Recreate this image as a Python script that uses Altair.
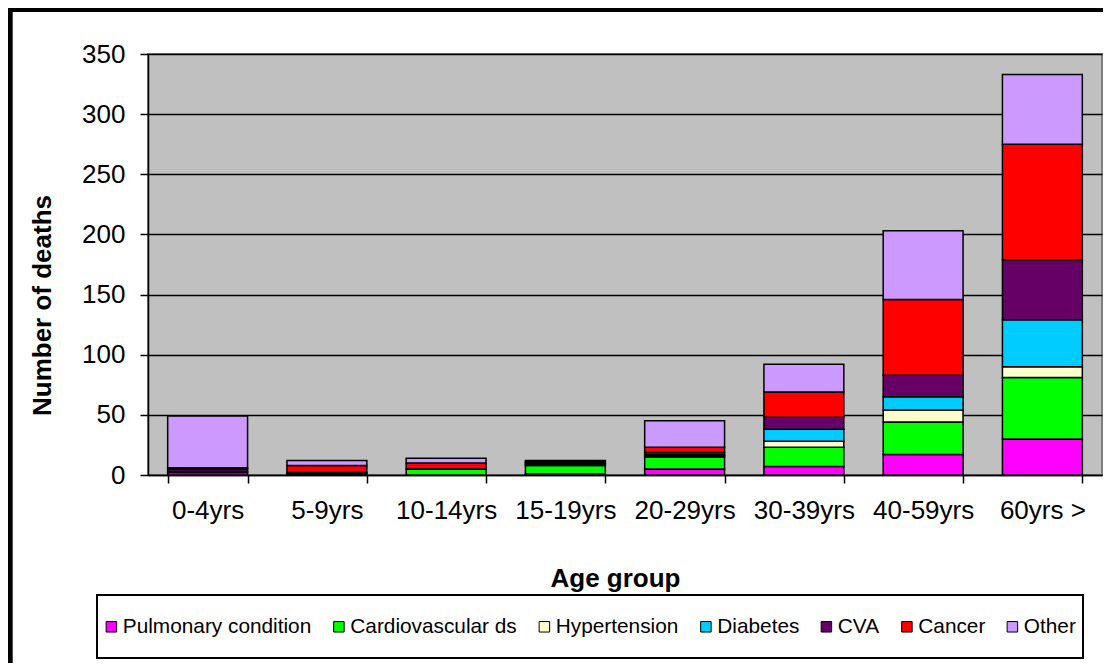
import altair as alt
import pandas as pd

categories = ["0-4yrs", "5-9yrs", "10-14yrs", "15-19yrs", "20-29yrs", "30-39yrs", "40-59yrs", "60yrs >"]
causes = ["Pulmonary condition", "Cardiovascular ds", "Hypertension", "Diabetes", "CVA", "Cancer", "Other"]
colors = ["#FF00FF", "#00FF00", "#FFFFCC", "#00CCFF", "#660066", "#FF0000", "#CC99FF"]

pulmonary = [2, 1, 0, 1, 5, 7, 17, 30]
cardiovascular = [1, 1, 5, 7, 10, 16, 27, 51]
hypertension = [0, 0, 0, 1, 1, 5, 10, 9]
diabetes = [0, 0, 0, 0, 1, 10, 11, 39]
cva = [2, 0, 0, 1, 2, 10, 18, 50]
cancer = [1, 6, 5, 1, 4, 21, 63, 96]
other = [43, 4, 4, 1, 22, 23, 57, 58]

series = [pulmonary, cardiovascular, hypertension, diabetes, cva, cancer, other]
y_ticks = [0, 50, 100, 150, 200, 250, 300, 350]

rows = []
for ci, (cause, vals) in enumerate(zip(causes, series)):
    for cat, v in zip(categories, vals):
        if v > 0:
            rows.append({"age": cat, "cause": cause, "deaths": v, "idx": ci})
df = pd.DataFrame(rows)

FONT = "Liberation Sans"

bars = alt.Chart(df).mark_bar(stroke="black", strokeWidth=1.5).encode(
    x=alt.X("age:N", sort=categories,
            scale=alt.Scale(paddingInner=0.33, paddingOuter=0.165),
            axis=alt.Axis(title="Age group", labelAngle=0, tickBand="extent",
                          tickSize=8, tickColor="black", tickWidth=1.5,
                          domainColor="black", domainWidth=1.5,
                          labelFontSize=26, labelFont=FONT, labelColor="black",
                          labelBaseline="alphabetic", labelPadding=35,
                          titleFontSize=26, titleFont=FONT, titleFontWeight="bold",
                          titleColor="black", titleBaseline="alphabetic",
                          titleX=467, titleY=111, grid=False)),
    y=alt.Y("deaths:Q", stack="zero",
            scale=alt.Scale(domain=[0, 350], nice=False),
            axis=alt.Axis(title="Number of deaths", values=y_ticks,
                          tickSize=8, tickColor="black", tickWidth=1.5,
                          domainColor="black", domainWidth=1.5,
                          labelFontSize=26, labelFont=FONT, labelColor="black",
                          labelPadding=15,
                          grid=True, gridColor="black", gridWidth=1.5,
                          titleFontSize=26, titleFont=FONT, titleFontWeight="bold",
                          titleColor="black", titleAngle=270,
                          titleBaseline="alphabetic", titleX=-98, titleY=251)),
    color=alt.Color("cause:N", sort=causes,
                    scale=alt.Scale(domain=causes, range=colors),
                    legend=alt.Legend(title=None, orient="none", direction="horizontal",
                                      columns=7, legendX=-47, legendY=562,
                                      padding=0, columnPadding=16.5,
                                      symbolType="square", symbolSize=110,
                                      symbolStrokeColor="black", symbolStrokeWidth=1,
                                      symbolOpacity=1, labelLimit=0,
                                      labelFontSize=20.8, labelFont=FONT,
                                      labelColor="black", labelOffset=1)),
    order=alt.Order("idx:Q", sort="ascending"),
)

blank = alt.Data(values=[{}])

frame = alt.Chart(blank).mark_rect(fill="black").encode(
    x=alt.value(-140), x2=alt.value(-135.3), y=alt.value(-46), y2=alt.value(609))
frame_top = alt.Chart(blank).mark_rect(fill="black").encode(
    x=alt.value(-140), x2=alt.value(955), y=alt.value(-46), y2=alt.value(-42))
legend_box = alt.Chart(blank).mark_rect(fill="white", stroke="black", strokeWidth=2).encode(
    x=alt.value(-51), x2=alt.value(935), y=alt.value(541), y2=alt.value(604))

chart = alt.layer(frame, frame_top, legend_box, bars).properties(
    width=954, height=421,
    padding={"left": 140, "top": 46, "right": 1, "bottom": 188},
    autosize=alt.AutoSizeParams(type="none"),
    background="white",
).configure_view(
    fill="#C0C0C0", stroke="#808080", strokeWidth=2
)

chart.save("out.html", embed_options={"renderer": "svg", "actions": False})
